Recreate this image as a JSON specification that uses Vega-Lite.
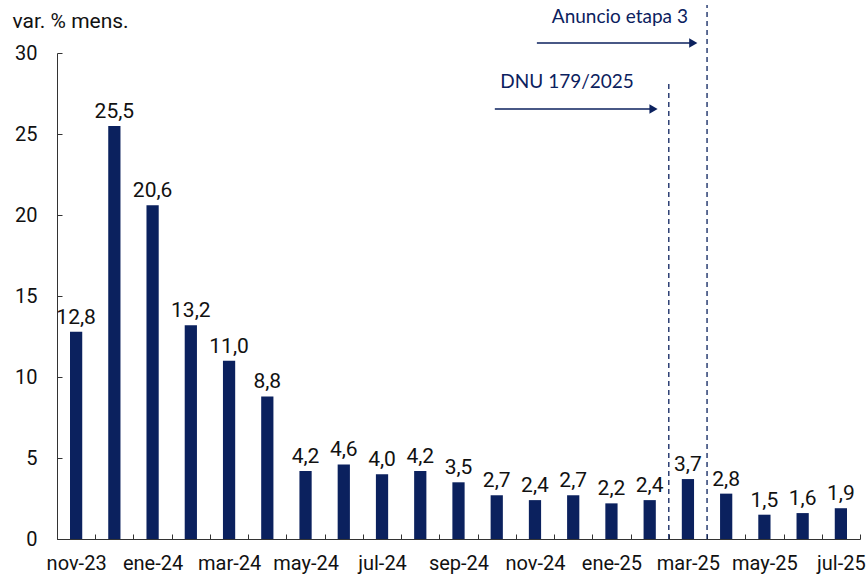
{
  "$schema": "https://vega.github.io/schema/vega-lite/v6.json",
  "width": 803,
  "height": 486,
  "autosize": {"type": "none"},
  "padding": {"left": 57, "top": 53, "right": 7, "bottom": 37},
  "config": {
    "view": {"stroke": null},
    "locale": {"number": {"decimal": ",", "thousands": ".", "grouping": [3], "currency": ["$", ""]}},
    "font": "Roboto"
  },
  "datasets": {
    "bars": [
      {"m": "nov-23", "v": 12.8}, {"m": "dic-23", "v": 25.5}, {"m": "ene-24", "v": 20.6},
      {"m": "feb-24", "v": 13.2}, {"m": "mar-24", "v": 11.0}, {"m": "abr-24", "v": 8.8},
      {"m": "may-24", "v": 4.2}, {"m": "jun-24", "v": 4.6}, {"m": "jul-24", "v": 4.0},
      {"m": "ago-24", "v": 4.2}, {"m": "sep-24", "v": 3.5}, {"m": "oct-24", "v": 2.7},
      {"m": "nov-24", "v": 2.4}, {"m": "dic-24", "v": 2.7}, {"m": "ene-25", "v": 2.2},
      {"m": "feb-25", "v": 2.4}, {"m": "mar-25", "v": 3.7}, {"m": "abr-25", "v": 2.8},
      {"m": "may-25", "v": 1.5}, {"m": "jun-25", "v": 1.6}, {"m": "jul-25", "v": 1.9}
    ],
    "vlines": [
      {"x": 16, "y": 0, "y2": 28.15},
      {"x": 17, "y": 0, "y2": 32.96}
    ],
    "arrows": [
      {"x": 11.45, "x2": 15.55, "y": 26.54, "tip": 15.6},
      {"x": 12.55, "x2": 16.6, "y": 30.62, "tip": 16.64}
    ],
    "notes": [
      {"x": 13.34, "y": 28.21, "t": "DNU 179/2025"},
      {"x": 14.72, "y": 32.22, "t": "Anuncio etapa 3"}
    ]
  },
  "resolve": {"scale": {"x": "independent"}, "axis": {"x": "independent"}},
  "layer": [
    {
      "data": {"name": "bars"},
      "encoding": {
        "x": {
          "field": "m", "type": "nominal", "sort": null,
          "scale": {"paddingInner": 0, "paddingOuter": 0},
          "axis": {
            "title": null, "labelAngle": 0, "tickBand": "extent",
            "labelExpr": "test(/^(nov|ene|mar|may|jul|sep)/, datum.value) ? datum.value : ''",
            "labelFont": "Roboto", "labelFontSize": 20, "labelColor": "#111", "labelPadding": 19,
            "tickSize": -5, "tickColor": "#333", "domainColor": "#333"
          }
        },
        "y": {
          "field": "v", "type": "quantitative",
          "scale": {"domain": [0, 30], "nice": false},
          "axis": {
            "values": [0, 5, 10, 15, 20, 25, 30], "grid": false,
            "title": "var. % mens.", "titleAngle": 0, "titleAlign": "left", "titleBaseline": "alphabetic",
            "titleX": -45, "titleY": -26, "titleFont": "Roboto", "titleFontSize": 21, "titleFontWeight": "normal", "titleColor": "#111",
            "labelFont": "Roboto", "labelFontSize": 20, "labelColor": "#111", "labelPadding": 25,
            "tickSize": -5, "tickColor": "#333", "domainColor": "#333"
          }
        }
      },
      "layer": [
        {"mark": {"type": "bar", "width": {"band": 0.32}, "color": "#0b215e"}},
        {
          "mark": {"type": "text", "baseline": "bottom", "dy": -4, "font": "Roboto", "fontSize": 21, "color": "#111"},
          "encoding": {"text": {"field": "v", "type": "quantitative", "format": ".1f"}}
        }
      ]
    },
    {
      "layer": [
        {
          "data": {"name": "vlines"},
          "mark": {"type": "rule", "strokeDash": [5, 4], "color": "#0b215e", "strokeWidth": 1.3},
          "encoding": {
            "x": {"field": "x", "type": "quantitative", "scale": {"domain": [0, 21], "nice": false, "zero": false}, "axis": null},
            "y": {"field": "y", "type": "quantitative", "scale": {"domain": [0, 30], "nice": false}},
            "y2": {"field": "y2"}
          }
        },
        {
          "data": {"name": "arrows"},
          "mark": {"type": "rule", "color": "#0b215e", "strokeWidth": 1.5},
          "encoding": {
            "x": {"field": "x", "type": "quantitative", "scale": {"domain": [0, 21], "nice": false, "zero": false}, "axis": null},
            "x2": {"field": "x2"},
            "y": {"field": "y", "type": "quantitative", "scale": {"domain": [0, 30], "nice": false}}
          }
        },
        {
          "data": {"name": "arrows"},
          "mark": {"type": "point", "shape": "triangle-right", "filled": true, "size": 90, "color": "#0b215e", "opacity": 1},
          "encoding": {
            "x": {"field": "tip", "type": "quantitative", "scale": {"domain": [0, 21], "nice": false, "zero": false}, "axis": null},
            "y": {"field": "y", "type": "quantitative", "scale": {"domain": [0, 30], "nice": false}}
          }
        },
        {
          "data": {"name": "notes"},
          "mark": {"type": "text", "font": "Lato", "fontSize": 19, "color": "#0b215e", "baseline": "middle", "align": "center"},
          "encoding": {
            "x": {"field": "x", "type": "quantitative", "scale": {"domain": [0, 21], "nice": false, "zero": false}, "axis": null},
            "y": {"field": "y", "type": "quantitative", "scale": {"domain": [0, 30], "nice": false}},
            "text": {"field": "t"}
          }
        }
      ]
    }
  ]
}
